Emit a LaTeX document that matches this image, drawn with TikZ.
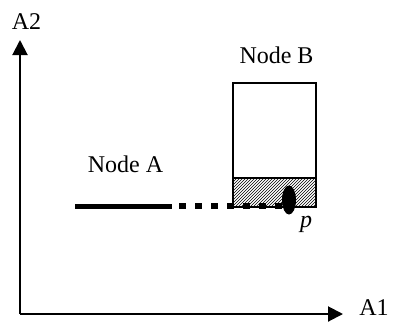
\documentclass[tikz,border=0pt]{standalone}
\usepackage{fontspec}
\setmainfont{Liberation Serif}
\usetikzlibrary{arrows.meta,shapes.geometric,patterns}
\begin{document}
\begin{tikzpicture}[x=1pt,y=-1pt,
  lbl/.style={inner sep=0pt,font=\fontsize{24}{28}\selectfont},
  axis/.style={line width=2pt,-{Triangle[length=15pt,width=15pt]}},
  boxline/.style={draw,line width=1.6pt},
  thickline/.style={line width=5pt},
  dotline/.style={line width=6pt,dash pattern=on 7pt off 9pt}]
\useasboundingbox (0,0) rectangle (393,322);
% axes
\coordinate (O) at (20,314);
\coordinate (Ytip) at (20,40);
\coordinate (Xtip) at (343,314);
\draw[axis] (O) -- (Ytip);
\draw[axis] (O) -- (Xtip);
\node[lbl] (A2) at (26.5,22) {A2};
\node[lbl] (A1) at (374,308) {A1};
% node B box
\node[boxline,minimum width=83pt,minimum height=124pt,inner sep=0pt] (B) at (274.5,145) {};
\node[boxline,pattern=north east lines,minimum width=83pt,minimum height=29pt,inner sep=0pt] (H) at (274.5,192.5) {};
\node[lbl] (Blbl) at (276.5,55) {Node B};
% node A
\node[lbl] (Albl) at (125.5,164) {Node A};
\coordinate (Astart) at (75,206);
\coordinate (Aend) at (172,206);
\node[ellipse,fill=black,minimum width=14pt,minimum height=29pt,inner sep=0pt] (p) at (289,200) {};
\draw[thickline] (Astart) -- (Aend);
\draw[dotline] (Aend) ++(7,0) -- (p.center |- Aend);
\node[lbl] (plbl) at (306,224) {\itshape p};
\end{tikzpicture}
\end{document}
